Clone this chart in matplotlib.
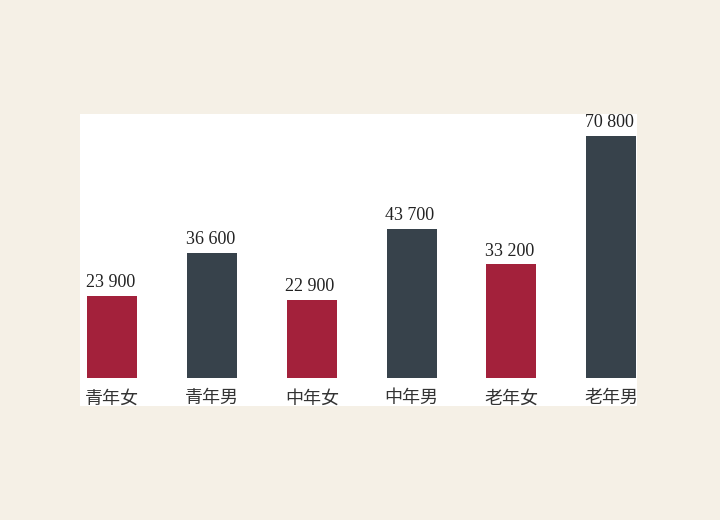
import numpy as np
import matplotlib.pyplot as plt

categories = ["青年女", "青年男", "中年女", "中年男", "老年女", "老年男"]
values = [23900, 36600, 22900, 43700, 33200, 70800]
value_labels = ["23 900", "36 600", "22 900", "43 700", "33 200", "70 800"]
colors = ["#a3213b", "#37424b", "#a3213b", "#37424b", "#a3213b", "#37424b"]

fig = plt.figure(figsize=(7.2, 5.2), dpi=100, facecolor="#f5f0e6")
# axes box in pixels: x 80..637, y 114..406 (from top)
ax = fig.add_axes([80 / 720, 1 - 406 / 520, 557 / 720, 292 / 520])
ax.set_facecolor("white")

x = np.arange(len(categories))
ax.bar(x, values, width=0.5, color=colors)

ax.set_xlim(-0.325, 5.26)
ax.set_ylim(-8200, 77200)

for xi, v, lab in zip(x, values, value_labels):
    ax.text(xi - 0.02, v + 1400, lab, ha="center", va="bottom", fontsize=13,
            family="Liberation Serif", color="#222222", clip_on=True)
    ax.text(xi, -3300, categories[xi], ha="center", va="top", fontsize=13,
            family=["Noto Sans CJK SC", "DejaVu Sans"], weight="light",
            color="#333333", clip_on=True)

ax.set_xticks([])
ax.set_yticks([])
for s in ax.spines.values():
    s.set_visible(False)

fig.savefig("out.png", dpi=100, facecolor=fig.get_facecolor())
